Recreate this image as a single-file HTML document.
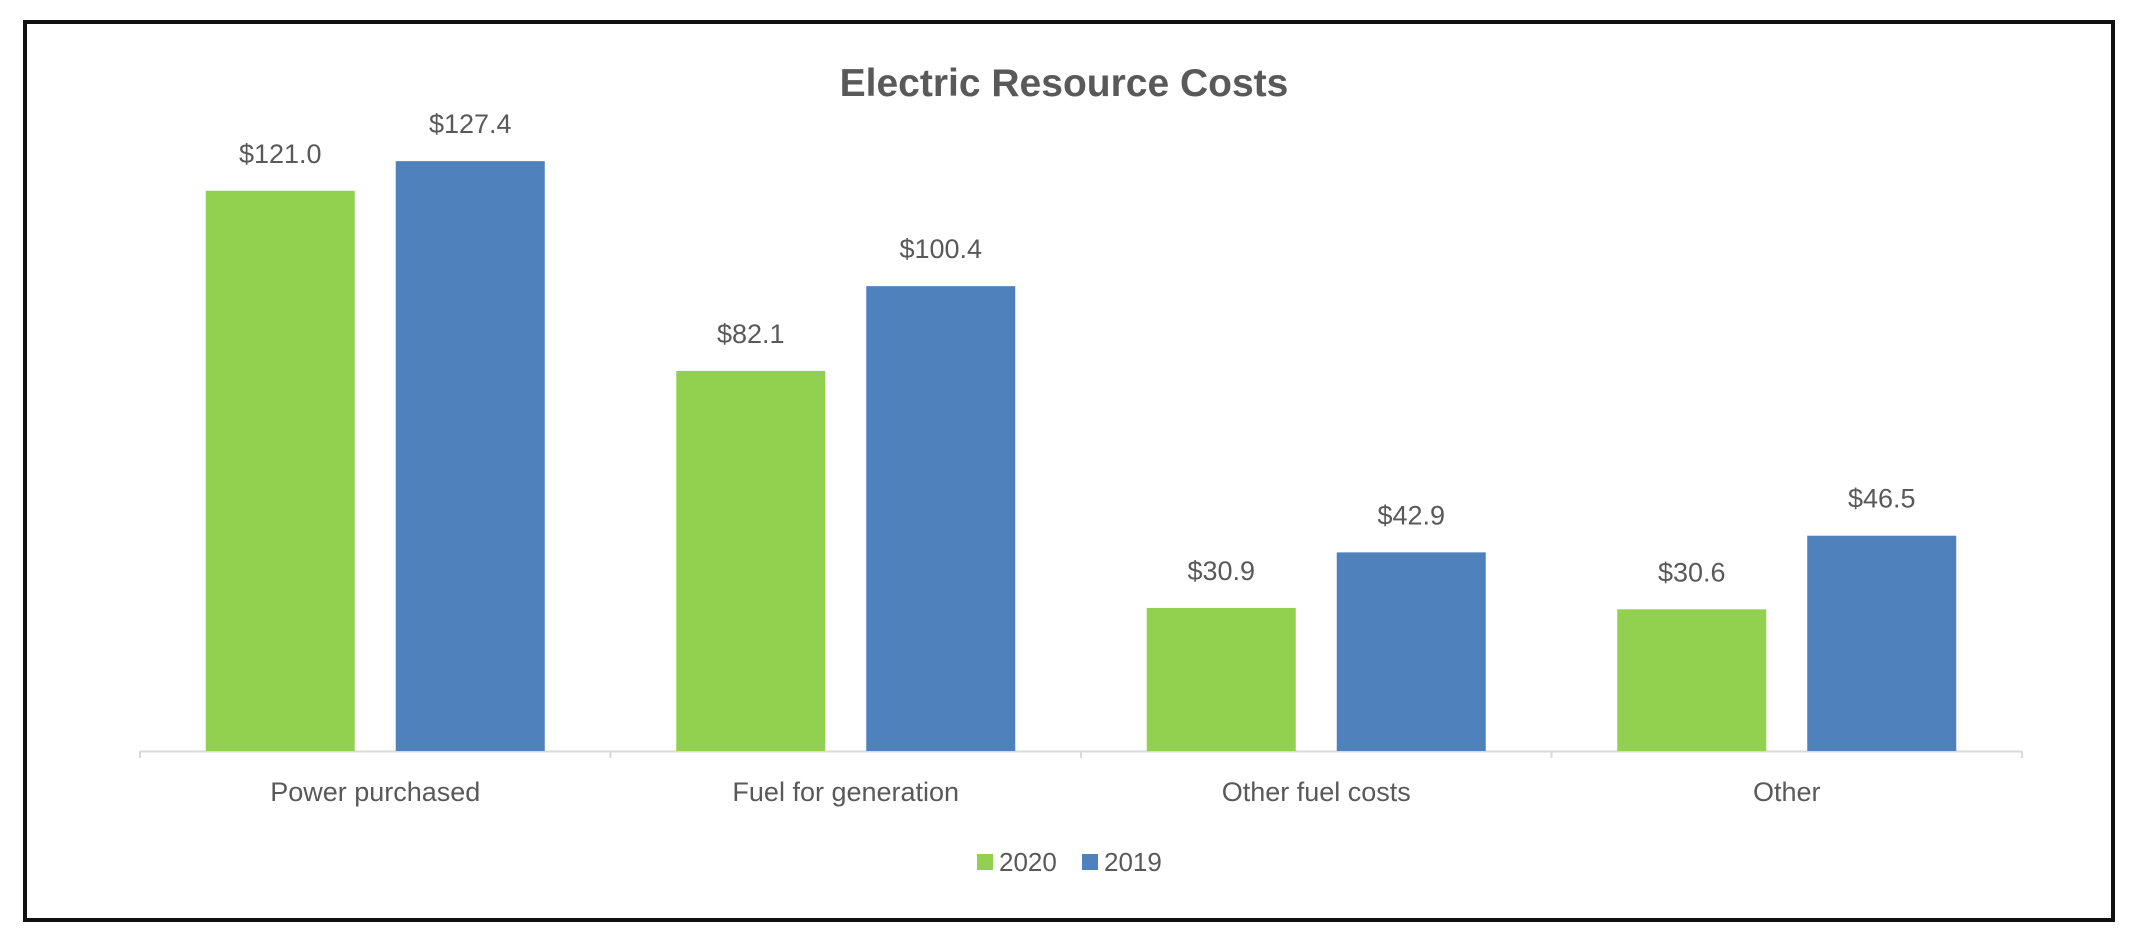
<!DOCTYPE html>
<html><head><meta charset="utf-8"><style>
body{margin:0;background:#fff;}
svg{display:block;font-family:"Liberation Sans",sans-serif;}
</style></head><body>
<svg id="chart" width="2138" height="935">
<rect x="25" y="22" width="2088" height="898" fill="#fff" stroke="#111" stroke-width="4"/>
<text x="1064" y="96" text-anchor="middle" font-size="39" font-weight="bold" fill="#595959">Electric Resource Costs</text>
<g id="plot"></g>
<g>
<rect x="977" y="854" width="16" height="16" fill="#92d050"/>
<text x="999" y="871" font-size="26" fill="#595959">2020</text>
<rect x="1082" y="854" width="16" height="16" fill="#4f81bd"/>
<text x="1104" y="871" font-size="26" fill="#595959">2019</text>
</g>
</svg>
<script>
const categories=["Power purchased","Fuel for generation","Other fuel costs","Other"];
const values2020=[121.0,82.1,30.9,30.6];
const values2019=[127.4,100.4,42.9,46.5];
const labels2020=["$121.0","$82.1","$30.9","$30.6"];
const labels2019=["$127.4","$100.4","$42.9","$46.5"];

const NS="http://www.w3.org/2000/svg";
const g=document.getElementById('plot');
const x0=140,x1=2022,base=751,pxPerUnit=4.63;
const bandW=(x1-x0)/categories.length;
const barW=149,off=95;
function xCenter(i){return x0+bandW*(i+0.5);}
function y(v){return base-v*pxPerUnit;}
function mk(tag,attrs){const e=document.createElementNS(NS,tag);for(const k in attrs)e.setAttribute(k,attrs[k]);g.appendChild(e);return e;}
const axis=mk('line',{x1:x0,x2:x1,y1:base+0.5,y2:base+0.5,stroke:'#d9d9d9','stroke-width':2});


for(let i=0;i<=categories.length;i++){
  const t=mk('line',{x1:x0+bandW*i,x2:x0+bandW*i,y1:base,y2:base+7,stroke:'#d9d9d9','stroke-width':2});
  
  
}
function bar(i,v,lab,dx,color,series){
  const cx=xCenter(i)+dx;
  const r=mk('rect',{x:cx-barW/2,y:y(v),width:barW,height:base-y(v),fill:color});
  
  
  const t=mk('text',{x:cx,y:y(v)-28,'text-anchor':'middle','font-size':27,fill:'#595959'});
  t.textContent=lab;
  
  
}
categories.forEach((c,i)=>{
  bar(i,values2020[i],labels2020[i],-off,'#92d050','2020');
  bar(i,values2019[i],labels2019[i],off,'#4f81bd','2019');
  const t=mk('text',{x:xCenter(i),y:801,'text-anchor':'middle','font-size':27,fill:'#595959'});
  t.textContent=c;
  
  
});
</script>
</body></html>
